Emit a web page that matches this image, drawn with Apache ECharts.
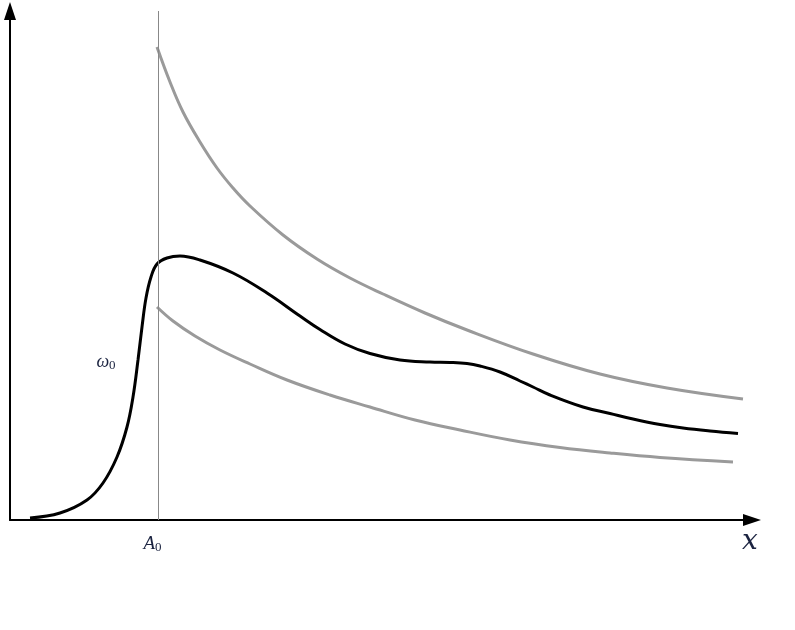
<!DOCTYPE html>
<html>
<head>
<meta charset="utf-8">
<title>chart</title>
<script src="https://cdn.jsdelivr.net/npm/echarts@6/dist/echarts.min.js"></script>
<style>
  html, body { margin: 0; padding: 0; background: #fff; }
  #main { width: 795px; height: 630px; }
</style>
</head>
<body>
<div id="main"></div>
<script>
  // values (x from left axis, y up from bottom axis)
  var blackCurve = [
    [20, 2], [50, 7], [77, 20], [93, 37], [107, 63], [117, 93], [123, 123],
    [128, 160], [132, 193], [136, 222], [141, 243], [147, 256], [157, 262],
    [170, 264], [190, 260], [223, 247], [257, 227], [290, 204], [310, 190.5],
    [335, 176], [360, 166.5], [390, 160], [420, 158], [440, 157.6], [457, 156.5],
    [470, 154], [490, 148], [510, 139], [523, 133], [540, 125], [573, 113],
    [600, 106.5], [623, 101], [650, 95.5], [673, 92], [700, 89], [728, 86.5]
  ];
  var upperCurve = [
    [147, 473], [160, 438], [173, 408], [190, 378], [207, 352], [223, 332],
    [240, 314], [273, 285], [307, 261], [340, 242], [373, 226], [415, 207],
    [457, 190], [523, 166], [590, 146], [657, 132], [733, 121]
  ];
  var lowerCurve = [
    [147, 213], [163, 199], [185, 184], [210, 170], [240, 156], [277, 140],
    [320, 125], [360, 113], [405, 100], [450, 90], [500, 80], [550, 72.5],
    [600, 67], [650, 62.5], [723, 58]
  ];
  var a0Value = 148;
  var omegaPos = [96, 158];
  var xMax = 742;
  var yMax = 509;

  var serif = 'Liberation Serif';
  var ink = '#1b2340';

  var chart = echarts.init(document.getElementById('main'));
  chart.setOption({
    animation: false,
    backgroundColor: '#fff',
    grid: { left: 10, top: 11, width: 742, height: 509 },
    xAxis: {
      type: 'value',
      min: 0,
      max: xMax,
      name: 'x',
      nameLocation: 'end',
      nameGap: -10,
      nameTextStyle: {
        fontFamily: 'DejaVu Serif', fontStyle: 'italic', fontSize: 28, color: ink,
        verticalAlign: 'top', padding: [8, 0, 0, 0]
      },
      axisLine: {
        show: true,
        symbol: ['none', 'triangle'],
        symbolSize: [12, 18],
        lineStyle: { color: '#000', width: 2 }
      },
      axisTick: { show: false },
      splitLine: { show: false },
      axisLabel: {
        show: true,
        customValues: [a0Value],
        margin: 14,
        padding: [0, 11, 0, 0],
        formatter: function () { return '{a|A}{s|0}'; },
        rich: {
          a: { fontFamily: serif, fontStyle: 'italic', fontSize: 19, color: ink },
          s: { fontFamily: serif, fontSize: 13, color: ink, padding: [7, 0, 0, 0] }
        }
      }
    },
    yAxis: {
      type: 'value',
      min: 0,
      max: yMax,
      axisLine: {
        show: true,
        symbol: ['none', 'triangle'],
        symbolSize: [12, 18],
        lineStyle: { color: '#000', width: 2 }
      },
      axisTick: { show: false },
      axisLabel: { show: false },
      splitLine: { show: false }
    },
    series: [
      {
        type: 'line',
        data: upperCurve,
        smooth: 0.4,
        showSymbol: false,
        lineStyle: { color: '#9a9a9a', width: 3 },
        markLine: {
          silent: true,
          symbol: ['none', 'none'],
          label: { show: false },
          lineStyle: { color: '#888', width: 1, type: 'solid' },
          data: [{ xAxis: a0Value }]
        }
      },
      {
        type: 'line',
        data: lowerCurve,
        smooth: 0.4,
        showSymbol: false,
        lineStyle: { color: '#9a9a9a', width: 3 }
      },
      {
        type: 'line',
        data: blackCurve,
        smooth: 0.4,
        showSymbol: false,
        lineStyle: { color: '#000', width: 3 },
        markPoint: {
          symbol: 'circle',
          symbolSize: 0,
          label: {
            show: true,
            position: 'inside',
            formatter: function () { return '{w|ω}{s|0}'; },
            rich: {
              w: { fontFamily: serif, fontStyle: 'italic', fontSize: 18, color: ink },
              s: { fontFamily: serif, fontSize: 13, color: ink, padding: [7, 0, 0, 0] }
            }
          },
          data: [{ coord: omegaPos }]
        }
      }
    ]
  });
</script>
</body>
</html>
